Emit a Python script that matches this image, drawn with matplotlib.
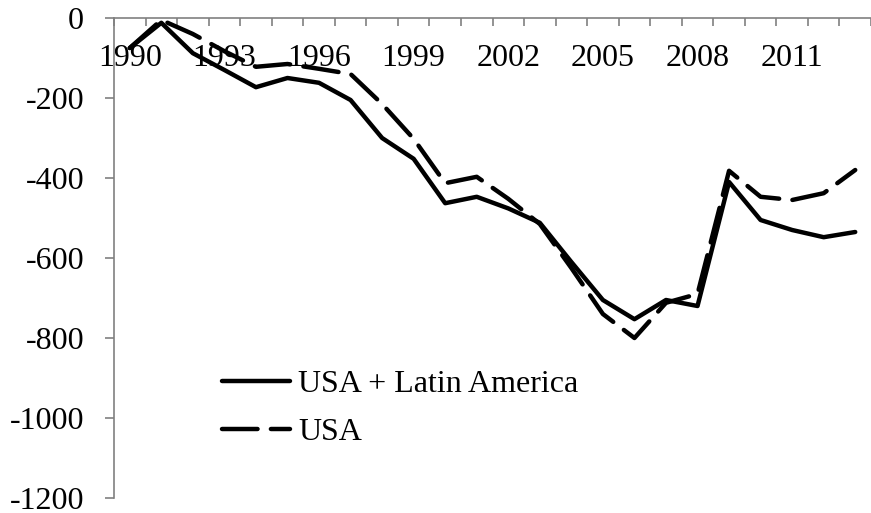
import numpy as np
import matplotlib
matplotlib.use("Agg")
import matplotlib.pyplot as plt

# ============================
# DATA
# ============================
years = list(range(1990, 2014))
usa_latam = [-75, -12, -88, -130, -173, -150, -162, -205, -300, -352,
             -463, -447, -476, -512, -610, -705, -753, -705, -720, -410,
             -505, -530, -548, -535]
usa = [-75, -5, -40, -83, -122, -115, -127, -140, -215, -302,
       -413, -397, -452, -515, -625, -740, -800, -712, -690, -382,
       -447, -455, -438, -380]
series_names = ["USA + Latin America", "USA"]
y_ticks = [0, -200, -400, -600, -800, -1000, -1200]
label_every = 3

plt.rcParams["font.family"] = ["Liberation Serif", "DejaVu Serif"]
axis_grey = "#808080"
fs = 23

fig = plt.figure(figsize=(8.71, 5.13), dpi=100)
ax = fig.add_axes([114 / 871, 1 - 498 / 513, 1 - 114 / 871, (498 - 18) / 513])

x = np.arange(len(years))
ax.plot(x, usa_latam, color="black", lw=3.2, solid_joinstyle="round",
        solid_capstyle="round", label=series_names[0])
ax.plot(x, usa, color="black", lw=3.2, dashes=(8, 3), dash_capstyle="round",
        dash_joinstyle="round", label=series_names[1])

ax.set_xlim(-0.5, len(years) - 0.5)
ax.set_ylim(-1200, 0)

# spines: only the left one and the top one (x axis crosses at 0)
for side in ["right", "bottom"]:
    ax.spines[side].set_visible(False)
for side in ["left", "top"]:
    ax.spines[side].set_color(axis_grey)
    ax.spines[side].set_linewidth(1.2)

# y axis
ax.set_yticks(y_ticks)
ax.set_yticklabels([str(v) for v in y_ticks])
ax.tick_params(axis="y", direction="out", length=6.5, width=1.2,
               color=axis_grey, pad=15, labelsize=fs)

# x axis: tick marks between categories, labels below the top line
ax.set_xticks(np.arange(len(years) + 1) - 0.5, minor=True)
ax.set_xticks(x[::label_every])
ax.set_xticklabels([str(y) for y in years[::label_every]])
ax.tick_params(axis="x", which="minor", direction="in", top=True,
               bottom=False, length=6, width=1.2, color=axis_grey)
ax.tick_params(axis="x", which="major", top=True, bottom=False,
               labeltop=True, labelbottom=False, length=0, pad=-39.5,
               labelsize=fs)

leg = ax.legend(loc="upper left", bbox_to_anchor=(222 / 871, 1 - 369.5 / 513),
                bbox_transform=fig.transFigure, frameon=False, fontsize=fs,
                handlelength=2.13, handletextpad=0.25, labelspacing=0.6,
                borderpad=0, borderaxespad=0)

fig.savefig("out.png", dpi=100)
